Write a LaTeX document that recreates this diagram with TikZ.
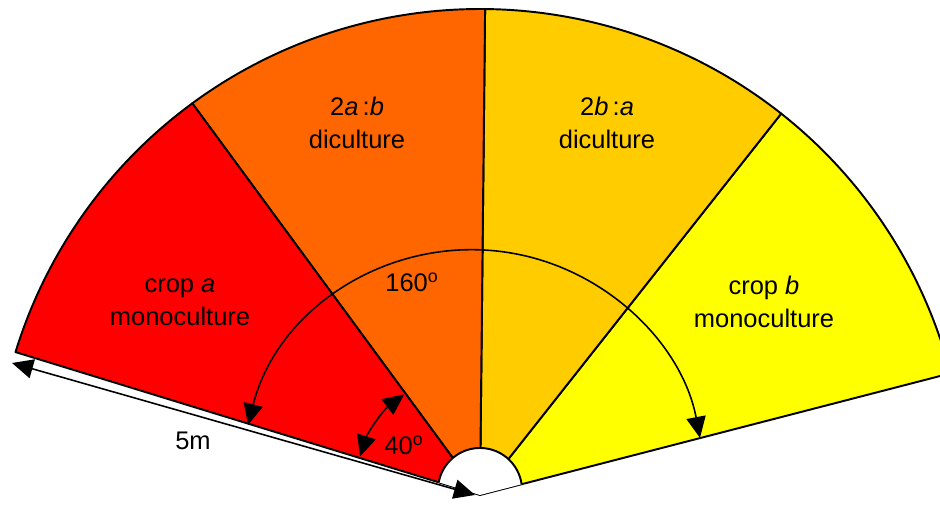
\documentclass[tikz,border=0pt]{standalone}
\usepackage{fontspec}
\setmainfont{Liberation Sans}
\usetikzlibrary{arrows.meta}
\definecolor{cropa}{HTML}{FF0000}
\definecolor{mixa}{HTML}{FF6600}
\definecolor{mixb}{HTML}{FFCC00}
\definecolor{cropb}{HTML}{FFFF00}

\begin{document}
\begin{tikzpicture}[x=0.02cm,y=0.02cm,font=\fontsize{14.5}{18.7}\selectfont,
  sector/.style={draw=black,line width=1.1pt,line join=round},
  dim/.style={line width=0.9pt,{Triangle[length=12pt,width=11pt]}-{Triangle[length=12pt,width=11pt]}},
  lbl/.style={align=center,inner sep=0pt}]
\def\R{486}
\useasboundingbox (0,0) rectangle (940,506);
\clip (0,0) rectangle (940,506);
\coordinate (O) at (480,11);
% four 40 degree sectors
\foreach \a/\b/\c in {14.5/51.7/cropb, 51.7/89.4/mixb, 89.4/126.3/mixa, 126.3/162.9/cropa}
  \draw[sector,fill=\c] (O) -- ++(\a:\R) arc[start angle=\a,end angle=\b,radius=\R] -- cycle;
% hole at the apex
\begin{scope}
  \clip (O) -- ++(14.5:\R) arc[start angle=14.5,end angle=162.9,radius=\R] -- cycle;
  \draw[line width=1.1pt,fill=white] (480,16) circle[radius=42];
\end{scope}
% angles
\coordinate (C) at (472.6,24.7);
\draw[dim] (C) ++(165.9:231.5) arc[start angle=165.9,end angle=10.8,radius=231.5];
\draw[dim] (O) ++(162.2:126) arc[start angle=162.2,end angle=127,radius=126];
% radius
\coordinate (r1) at (12,143);
\coordinate (r2) at (475,11);
\draw[dim] (r1) -- (r2);
\node[lbl] (len) at (193,65) {5m};
\node[lbl] (big) at (412,224) {160\textsuperscript{o}};
\node[lbl] (small) at (404,61) {40\textsuperscript{o}};
% sector labels
\node[lbl] (monoa) at (180,204) {crop \textit{a}\\monoculture};
\node[lbl] (dia) at (357,383) {2\textit{a}\,:\textit{b}\\diculture};
\node[lbl] (dib) at (607,383) {2\textit{b}\,:\textit{a}\\diculture};
\node[lbl] (monob) at (764,204) {crop \textit{b}\\monoculture};
\end{tikzpicture}
\end{document}
